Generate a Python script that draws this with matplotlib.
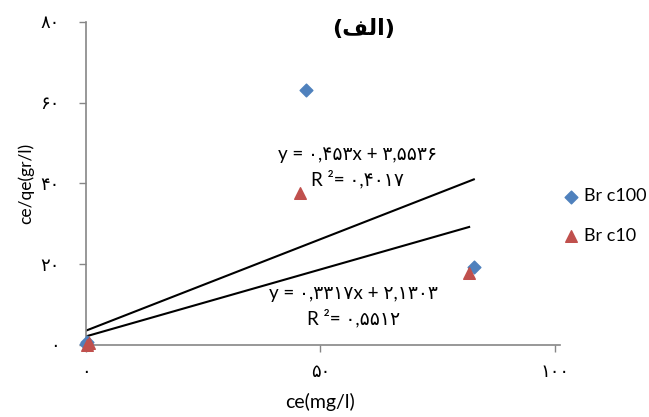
import matplotlib
matplotlib.use("Agg")
import matplotlib.pyplot as plt

plt.rcParams['font.family'] = ['Lato', 'DejaVu Sans']

# Br c100 series
c100_x = [0.05, 0.3, 47.0, 82.7]
c100_y = [0.3, 0.8, 63.1, 19.3]

# Br c10 series
c10_x = [0.2, 0.6, 45.6, 81.7]
c10_y = [0.1, 0.6, 37.6, 17.9]

# linear trendlines (slope, intercept) as printed on the chart
fit_c100 = (0.453, 3.5536)
fit_c10 = (0.3317, 2.1303)

x_ticks = [0, 50, 100]
x_tick_labels = ['۰', '۵۰', '۱۰۰']
y_ticks = [0, 20, 40, 60, 80]
y_tick_labels = ['۰', '۲۰', '۴۰', '۶۰', '۸۰']

eq_c100 = 'y = ۰,۴۵۳x + ۳,۵۵۳۶'
r2_c100 = 'R ²= ۰,۴۰۱۷'
eq_c10 = 'y = ۰,۳۳۱۷x + ۲,۱۳۰۳'
r2_c10 = 'R ²= ۰,۵۵۱۲'

# "(الف)" written out in presentation forms so the letters join
title = '(\uFED2\uFEDF\uFE8D)'

blue = '#4F81BD'
red = '#C0504D'
gray = '#868686'

fig = plt.figure(figsize=(6.49, 4.17), dpi=100)
ax = fig.add_axes([0.1325, 0.1727, 0.7226, 0.7746])

ax.scatter(c100_x, c100_y, marker='D', s=42, color=blue, zorder=3,
           label='Br c100', clip_on=False)
ax.scatter(c10_x, c10_y, marker='^', s=70, color=red, zorder=3,
           label='Br c10', clip_on=False)

for (m, b), xs in [(fit_c100, c100_x), (fit_c10, c10_x)]:
    x0, x1 = 0, max(xs)
    ax.plot([x0, x1], [m * x0 + b, m * x1 + b], color='black', lw=1.5, zorder=2)

ax.text(58, 47.2, eq_c100, ha='center', va='center', fontsize=13.5)
ax.text(58, 41.0, r2_c100, ha='center', va='center', fontsize=13.5)
ax.text(57, 12.8, eq_c10, ha='center', va='center', fontsize=13.5)
ax.text(57, 6.6, r2_c10, ha='center', va='center', fontsize=13.5)

ax.set_xlim(0, 100)
ax.set_ylim(0, 80)
ax.set_xticks(x_ticks)
ax.set_xticklabels(x_tick_labels, fontsize=13)
ax.set_yticks(y_ticks)
ax.set_yticklabels(y_tick_labels, fontsize=13)
ax.tick_params(axis='both', colors=gray, labelcolor='black', length=5, width=1)
ax.tick_params(axis='x', pad=9)
ax.tick_params(axis='y', pad=14)

for side in ['top', 'right']:
    ax.spines[side].set_visible(False)
for side in ['left', 'bottom']:
    ax.spines[side].set_color(gray)
    ax.spines[side].set_linewidth(1.2)
ax.spines['bottom'].set_bounds(0, 101)

ax.set_xlabel('ce(mg/l)', fontsize=14, labelpad=9)
ax.set_ylabel('ce/qe(gr/l)', fontsize=12.5, labelpad=4)

fig.text(0.56, 0.93, title, ha='center', va='center', fontsize=16,
         fontweight='bold', family='DejaVu Sans')

ax.legend(loc='center left', bbox_to_anchor=(0.852, 0.482),
          bbox_transform=fig.transFigure, frameon=False, fontsize=13,
          handlelength=1.0, handletextpad=0.2, labelspacing=1.3,
          borderpad=0.0)

fig.savefig('out.png', dpi=100)
